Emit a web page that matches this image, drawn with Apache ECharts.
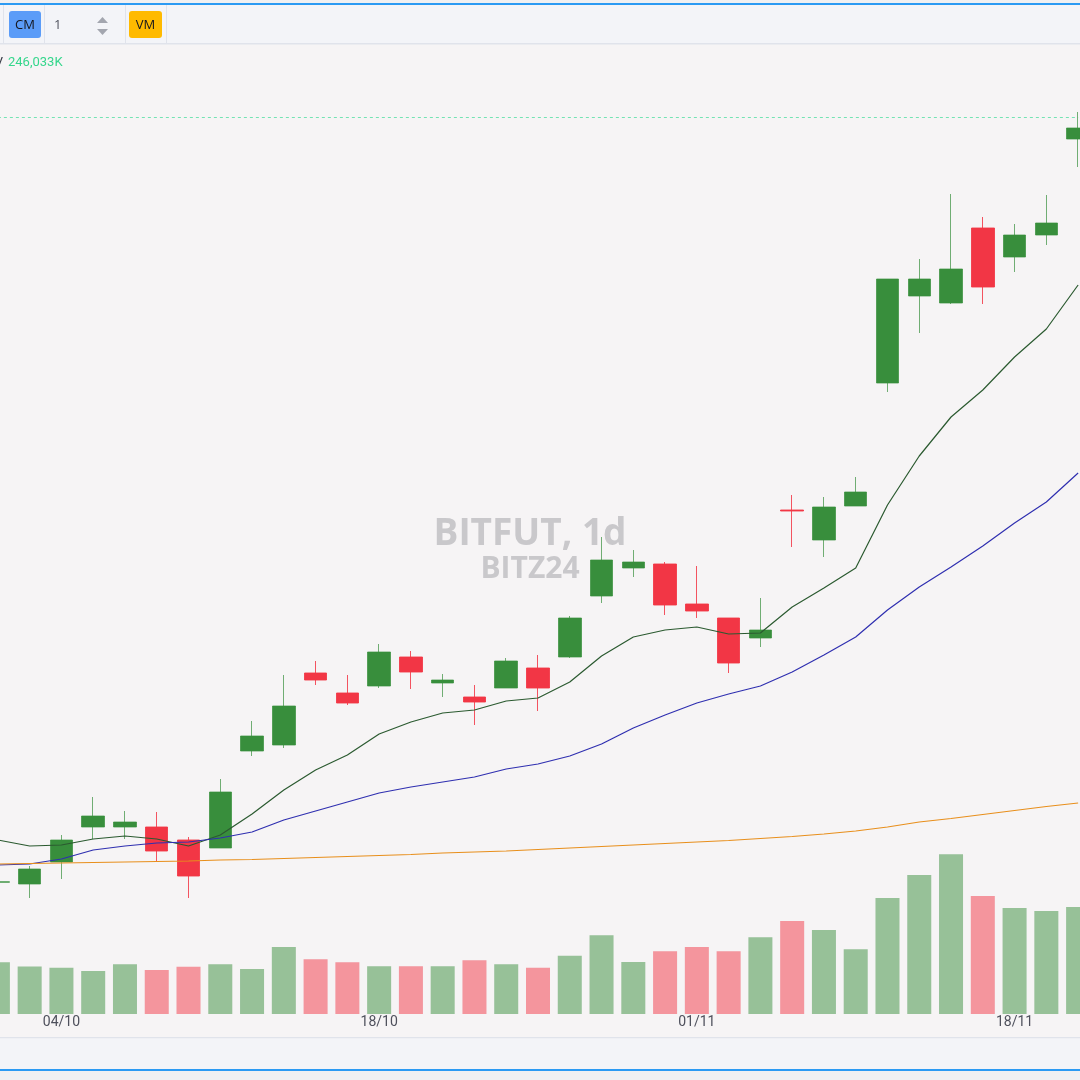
<!DOCTYPE html>
<html><head><meta charset="utf-8">
<script src="https://cdn.jsdelivr.net/npm/echarts@6/dist/echarts.min.js"></script>
<style>html,body{margin:0;padding:0;background:#f6f4f5;overflow:hidden;width:1080px;height:1080px;position:relative;} #c{position:absolute;left:-18px;top:0;width:1112px;height:1080px;}</style>
</head><body><div id="c"></div>
<script>
// ---- data ----
const dates = ['02/10','03/10','04/10','07/10','08/10','09/10','10/10','11/10','14/10','15/10','16/10','17/10','18/10','21/10','22/10','23/10','24/10','25/10','28/10','29/10','30/10','31/10','01/11','05/11','06/11','07/11','08/11','11/11','12/11','13/11','14/11','15/11','18/11','19/11','20/11'];
const labelDates = ['04/10','18/10','01/11','18/11'];
// [open, close, low, high]
const ohlc = [
  [61230,61250,61080,61400],[61160,61760,60600,61880],[62040,62920,61360,63120],[63440,63880,62960,64640],
  [63440,63640,62960,64080],[63440,62480,62040,64040],[62920,61480,60600,63040],[62600,64840,62600,65360],
  [66480,67080,66280,67680],[66720,68280,66600,69520],[69600,69320,69120,70080],[68800,68400,68320,69520],
  [69080,70440,69000,70760],[70240,69640,68960,70480],[69200,69320,68640,69560],[68640,68440,67520,69120],
  [69000,70080,69000,70200],[69800,69000,68080,70320],[70240,71800,70200,71880],[72680,74120,72400,75040],
  [73800,74040,73440,74520],[73960,72320,71920,74040],[72360,72080,71800,73880],[71800,70000,69600,71800],
  [71000,71320,70640,72600],[76120,76080,74640,76720],[74920,76240,74240,76640],[76280,76840,76280,77440],
  [81200,85360,80840,85360],[84680,85360,83200,86160],[84400,85760,84360,88760],[87400,85040,84360,87840],
  [86240,87120,85640,87560],[87120,87600,86720,88720],[90960,91400,89840,92040]
];
const maFast = [62920,62680,62720,62960,63080,62960,62680,63120,63960,64920,65720,66320,67160,67640,68000,68120,68480,68600,69240,70280,71040,71320,71440,71160,71200,72240,73000,73800,76320,78280,79840,80920,82240,83360,85120];
const maMid = [61920,61960,62160,62520,62680,62800,62840,63000,63240,63720,64080,64440,64800,65040,65240,65440,65760,65960,66280,66760,67400,67920,68400,68760,69080,69640,70320,71040,72120,73040,73840,74680,75600,76440,77600];
const maSlow = [61960,61980,62000,62020,62040,62060,62080,62120,62140,62180,62220,62260,62300,62340,62400,62440,62480,62540,62600,62660,62720,62780,62840,62900,62980,63060,63160,63280,63440,63640,63780,63940,64100,64260,64400];
// volume, thousands
const volumes = [118900,109250,106500,98900,114300,101200,108800,114300,103500,154100,125800,118900,109700,109700,109700,123500,114300,106500,134100,181000,119600,144200,154100,144200,176400,213900,193200,148800,266800,319700,367300,271400,243800,236900,246033];
const lastPrice = 91820;
const volumeText = '246,033K';

// ---- styles ----
const UP = '#388e3c', DOWN = '#f23645';
const OX = 18; // chart canvas starts 18px left of the page
const X = v => v + OX;

const volData = volumes.map((v, i) => ({
  value: v,
  itemStyle: { color: ohlc[i][1] >= ohlc[i][0] ? 'rgba(56,142,60,0.5)' : 'rgba(242,54,69,0.5)' }
}));
const priceLineData = [[dates[0], lastPrice], [dates[dates.length - 1], lastPrice]];

const chart = echarts.init(document.getElementById('c'), null, { renderer: 'canvas' });
const hidden = { show: false };
const W = 1112;
chart.setOption({
  animation: false,
  backgroundColor: '#f6f4f5',
  grid: [
    { left: 0, right: 0, top: 45, height: 968 },
    { left: 0, right: 0, top: 760, height: 254 }
  ],
  xAxis: [
    { type: 'category', data: dates, gridIndex: 0, boundaryGap: true, axisLine: hidden, axisTick: hidden, axisLabel: hidden, splitLine: hidden },
    { type: 'category', data: dates, gridIndex: 1, boundaryGap: true, axisLine: hidden, axisTick: hidden, splitLine: hidden,
      axisLabel: { show: true, interval: (idx, val) => labelDates.indexOf(val) >= 0, color: '#4e505c', fontSize: 14, fontFamily: 'Roboto', margin: 1 } }
  ],
  yAxis: [
    { type: 'value', gridIndex: 0, min: 56000, max: 94720, show: false, splitLine: hidden },
    { type: 'value', gridIndex: 1, min: 0, max: 584200, show: false, splitLine: hidden }
  ],
  series: [
    { type: 'bar', xAxisIndex: 1, yAxisIndex: 1, data: volData, barWidth: 24, z: 2 },
    { type: 'line', data: priceLineData, showSymbol: false, symbol: 'none', z: 2, silent: true,
      color: '#3ddc97', lineStyle: { color: '#3ddc97', type: [3, 3], width: 1, opacity: 0.7 } },
    { type: 'candlestick', xAxisIndex: 0, yAxisIndex: 0, data: ohlc, barWidth: 23, z: 3,
      itemStyle: { color: UP, color0: DOWN, borderColor: 'rgba(56,142,60,0.7)', borderColor0: 'rgba(242,54,69,0.85)', borderColorDoji: DOWN, borderWidth: 1 }
    },
    { type: 'line', data: maFast, showSymbol: false, symbol: 'none', z: 4, color: '#2b5a30', lineStyle: { color: '#2b5a30', width: 1.2 } },
    { type: 'line', data: maMid, showSymbol: false, symbol: 'none', z: 4, color: '#2f2fb0', lineStyle: { color: '#2f2fb0', width: 1.2 } },
    { type: 'line', data: maSlow, showSymbol: false, symbol: 'none', z: 4, color: '#e88f1c', lineStyle: { color: '#e88f1c', width: 1.2 } }
  ],
  graphic: [
    // watermark
    { type: 'text', z: 0, x: X(530), y: 534, silent: true, style: { text: 'BITFUT, 1d', fill: '#c9c8cb', font: 'bold 37px "Open Sans"', textAlign: 'center', textVerticalAlign: 'middle' } },
    { type: 'text', z: 0, x: X(530), y: 569, silent: true, style: { text: 'BITZ24', fill: '#c9c8cb', font: 'bold 30px "Open Sans"', textAlign: 'center', textVerticalAlign: 'middle' } },
    // top bar
    { type: 'rect', z: 100, shape: { x: 0, y: 0, width: W, height: 3 }, style: { fill: '#f0f0f2' } },
    { type: 'rect', z: 100, shape: { x: 0, y: 3, width: W, height: 2 }, style: { fill: '#2b9af3' } },
    { type: 'rect', z: 100, shape: { x: 0, y: 5, width: W, height: 38 }, style: { fill: '#f3f4f8' } },
    { type: 'rect', z: 100, shape: { x: 0, y: 43, width: W, height: 1.5 }, style: { fill: '#e0e3eb' } },
    { type: 'rect', z: 100, shape: { x: X(3), y: 5, width: 1, height: 38 }, style: { fill: '#e0e3eb' } },
    { type: 'rect', z: 100, shape: { x: X(44), y: 5, width: 1, height: 38 }, style: { fill: '#e0e3eb' } },
    { type: 'rect', z: 100, shape: { x: X(125), y: 5, width: 1, height: 38 }, style: { fill: '#e0e3eb' } },
    { type: 'rect', z: 100, shape: { x: X(166), y: 5, width: 1, height: 38 }, style: { fill: '#e0e3eb' } },
    { type: 'rect', z: 101, shape: { x: X(9), y: 11, width: 32, height: 27, r: 3 }, style: { fill: '#5b9cf8' } },
    { type: 'text', z: 102, x: X(25), y: 25, style: { text: 'CM', fill: '#15161c', font: '13px "Open Sans"', textAlign: 'center', textVerticalAlign: 'middle' } },
    { type: 'text', z: 102, x: X(54), y: 25, style: { text: '1', fill: '#50535e', font: '13px "Open Sans"', textAlign: 'left', textVerticalAlign: 'middle' } },
    { type: 'polygon', z: 102, shape: { points: [[X(97), 23], [X(102.5), 17], [X(108), 23]] }, style: { fill: '#a3a6af' } },
    { type: 'polygon', z: 102, shape: { points: [[X(97), 29], [X(108), 29], [X(102.5), 35]] }, style: { fill: '#a3a6af' } },
    { type: 'rect', z: 101, shape: { x: X(129), y: 11, width: 33, height: 27, r: 3 }, style: { fill: '#ffba00' } },
    { type: 'text', z: 102, x: X(145.5), y: 25, style: { text: 'VM', fill: '#15161c', font: '13px "Open Sans"', textAlign: 'center', textVerticalAlign: 'middle' } },
    // volume legend
    { type: 'text', z: 102, x: X(3), y: 63, style: { text: 'V', fill: '#3a3c47', font: '13px Roboto', textAlign: 'right', textVerticalAlign: 'middle' } },
    { type: 'text', z: 102, x: X(8), y: 63, style: { text: volumeText, fill: '#35d68c', font: '13px Roboto', textAlign: 'left', textVerticalAlign: 'middle' } },
    // bottom strips
    { type: 'rect', z: 100, shape: { x: 0, y: 1037, width: W, height: 1.5 }, style: { fill: '#e0e3eb' } },
    { type: 'rect', z: 100, shape: { x: 0, y: 1038.5, width: W, height: 30.5 }, style: { fill: '#f3f4f8' } },
    { type: 'rect', z: 100, shape: { x: 0, y: 1069, width: W, height: 2 }, style: { fill: '#2b9af3' } },
    { type: 'rect', z: 100, shape: { x: 0, y: 1071, width: W, height: 9 }, style: { fill: '#f0f0f2' } }
  ]
});
</script>
</body></html>
